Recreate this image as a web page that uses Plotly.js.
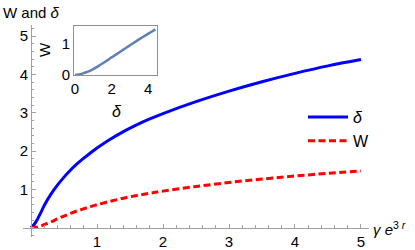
<!DOCTYPE html>
<html>
<head>
<meta charset="utf-8">
<script src="https://cdn.plot.ly/plotly-3.0.1.min.js"></script>
<style>html,body{margin:0;padding:0;background:#fff;}#chart{width:415px;height:250px;}</style>
</head>
<body>
<div id="chart"></div>
<script>
// x values: gamma e^{3r}
const xVals = [0, 0.05, 0.1, 0.15, 0.2, 0.3, 0.4, 0.5, 0.6, 0.7, 0.8, 0.9, 1.0, 1.2, 1.4, 1.6, 1.8, 2.0, 2.5, 3.0, 3.5, 4.0, 4.5, 5.0];
// delta series
const deltaVals = [0, 0.09, 0.23, 0.40, 0.58, 0.87, 1.11, 1.32, 1.505, 1.67, 1.815, 1.95, 2.08, 2.31, 2.51, 2.685, 2.84, 2.98, 3.29, 3.565, 3.81, 4.03, 4.225, 4.39];
// W series
const wVals = [0, 0.005, 0.02, 0.045, 0.08, 0.15, 0.23, 0.305, 0.375, 0.44, 0.495, 0.55, 0.60, 0.69, 0.77, 0.84, 0.90, 0.955, 1.075, 1.18, 1.27, 1.35, 1.42, 1.48];
const mainTicks = [1, 2, 3, 4, 5];
const insetXTicks = [0, 2, 4];
const insetYTicks = [0, 1];

const W = 415, H = 250;
const FONT = "Liberation Sans, Arial, sans-serif";
const axisGray = "#a0a0a0";

const traces = [
  {x: xVals, y: deltaVals, type: "scatter", mode: "lines", name: "<i>δ</i>",
   line: {color: "#0000ff", width: 3, shape: "spline", smoothing: 1}, xaxis: "x", yaxis: "y"},
  {x: xVals, y: wVals, type: "scatter", mode: "lines", name: "W",
   line: {color: "#ff0000", width: 3, dash: "7px,3.5px", shape: "spline", smoothing: 1}, xaxis: "x", yaxis: "y"},
  {x: deltaVals, y: wVals, type: "scatter", mode: "lines", showlegend: false,
   line: {color: "rgb(94,129,181)", width: 2.5, shape: "spline", smoothing: 1}, xaxis: "x2", yaxis: "y2"}
];

const px = v => v / W;
const py = v => (H - v) / H;

const layout = {
  width: W, height: H,
  margin: {l: 0, r: 0, t: 0, b: 0},
  paper_bgcolor: "#fff", plot_bgcolor: "rgba(0,0,0,0)",
  font: {family: FONT, size: 15, color: "#000"},
  showlegend: true,
  legend: {x: px(303), y: py(100), xanchor: "left", yanchor: "top",
           font: {family: FONT, size: 16, color: "#000"}, bgcolor: "rgba(0,0,0,0)",
           tracegroupgap: 0, itemwidth: 40},
  xaxis: {
    domain: [px(23.1), px(368.9)], range: [-0.12, 5.12],
    anchor: "free", position: py(227.7),
    showline: true, linecolor: axisGray, linewidth: 1,
    zeroline: false, showgrid: false,
    tickmode: "array", tickvals: mainTicks, ticks: "inside", ticklen: 4, tickcolor: axisGray,
    minor: {dtick: 0.2, tick0: 0, ticks: "inside", ticklen: 2.3, tickcolor: axisGray, showgrid: false},
    tickfont: {family: FONT, size: 15, color: "#000"}, fixedrange: true
  },
  yaxis: {
    domain: [py(236.5), py(24.7)], range: [-0.23, 5.3],
    anchor: "free", position: px(31),
    showline: true, linecolor: axisGray, linewidth: 1,
    zeroline: false, showgrid: false,
    tickmode: "array", tickvals: mainTicks, ticks: "inside", ticklen: 4, tickcolor: axisGray,
    minor: {dtick: 0.2, tick0: 0, ticks: "inside", ticklen: 2.3, tickcolor: axisGray, showgrid: false},
    tickfont: {family: FONT, size: 15, color: "#000"}, fixedrange: true
  },
  xaxis2: {
    domain: [px(74), px(156.7)], range: [-0.05, 4.46], anchor: "y2",
    showline: true, mirror: true, linecolor: "#909090", linewidth: 1,
    zeroline: false, showgrid: false,
    tickmode: "array", tickvals: insetXTicks, ticks: "",
    tickfont: {family: FONT, size: 15, color: "#000"}, fixedrange: true
  },
  yaxis2: {
    domain: [py(75.3), py(25.7)], range: [-0.01, 1.6], anchor: "x2",
    showline: true, mirror: true, linecolor: "#909090", linewidth: 1,
    zeroline: false, showgrid: false,
    tickmode: "array", tickvals: insetYTicks, ticks: "",
    tickfont: {family: FONT, size: 15, color: "#000"}, fixedrange: true
  },
  annotations: [
    {text: "W and <i>δ</i>", xref: "paper", yref: "paper", x: px(1), y: py(12),
     xanchor: "left", yanchor: "middle", showarrow: false, font: {family: FONT, size: 15, color: "#000"}},
    {text: "<i>γ</i> <i>e</i><sup>3 <i>r</i></sup>", xref: "paper", yref: "paper", x: px(371), y: py(228),
     xanchor: "left", yanchor: "middle", showarrow: false, font: {family: FONT, size: 15, color: "#000"}},
    {text: "<i>δ</i>", xref: "paper", yref: "paper", x: px(117), y: py(112),
     xanchor: "center", yanchor: "middle", showarrow: false, font: {family: FONT, size: 16, color: "#000"}},
    {text: "W", xref: "paper", yref: "paper", x: px(45), y: py(50), textangle: -90,
     xanchor: "center", yanchor: "middle", showarrow: false, font: {family: FONT, size: 15, color: "#000"}}
  ]
};

Plotly.newPlot("chart", traces, layout, {staticPlot: true, displayModeBar: false});
</script>
</body>
</html>
